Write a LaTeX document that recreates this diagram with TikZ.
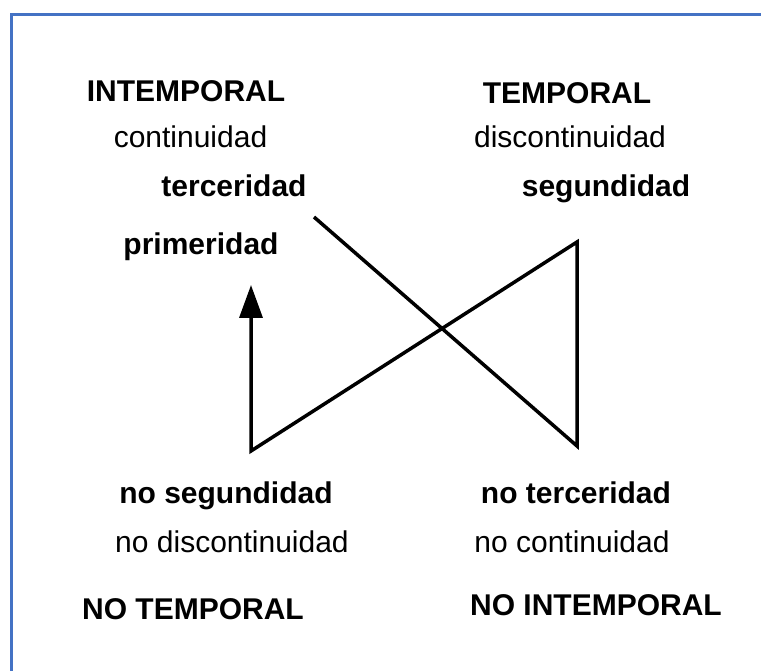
\documentclass[tikz,border=0pt]{standalone}
\usepackage{fontspec}
\setmainfont{Liberation Sans}
\usepackage{tikz}
\usetikzlibrary{arrows.meta}
\definecolor{framecol}{RGB}{68,114,196}

\begin{document}
\begin{tikzpicture}[x=1pt,y=-1pt,
    lbl/.style={anchor=base,inner sep=0pt,font=\fontsize{30}{35}\selectfont},
    blbl/.style={lbl,font=\fontsize{30}{35}\selectfont\bfseries}]
                \useasboundingbox (0,0) rectangle (761,671);
                \draw[framecol,line width=3pt] (11.5,671) -- (11.5,15) -- (761,15);

                % upper half
                \node[blbl] (intemp) at (186,102) {INTEMPORAL};
                \node[lbl] (cont) at (190.5,148) {continuidad};
                \node[blbl] (terc) at (234,197) {terceridad};
                \node[blbl] (prim) at (201,255) {primeridad};
                \node[blbl] (temp) at (567,104) {TEMPORAL};
                \node[lbl] (discont) at (570,148) {discontinuidad};
                \node[blbl] (segu) at (606,197) {segundidad};

                % lower half
                \node[blbl] (nosegu) at (226,503) {no segundidad};
                \node[lbl] (nodiscont) at (232,552) {no discontinuidad};
                \node[blbl] (notemp) at (193,619) {NO TEMPORAL};
                \node[blbl] (noterc) at (576,503) {no terceridad};
                \node[lbl] (nocont) at (572,552) {no continuidad};
                \node[blbl] (nointemp) at (596,615) {NO INTEMPORAL};

                % the crossing path
                \coordinate (p1) at (314,217);
                \coordinate (p2) at (577,446);
                \coordinate (p3) at (577,242);
                \coordinate (p4) at (251,451);
                \coordinate (p5) at (251,285);
                \draw[line width=3.5pt,line join=miter,-{Triangle[length=33pt,width=23pt]}]
                    (p1) -- (p2) -- (p3) -- (p4) -- (p5);
            \end{tikzpicture}
\end{document}
